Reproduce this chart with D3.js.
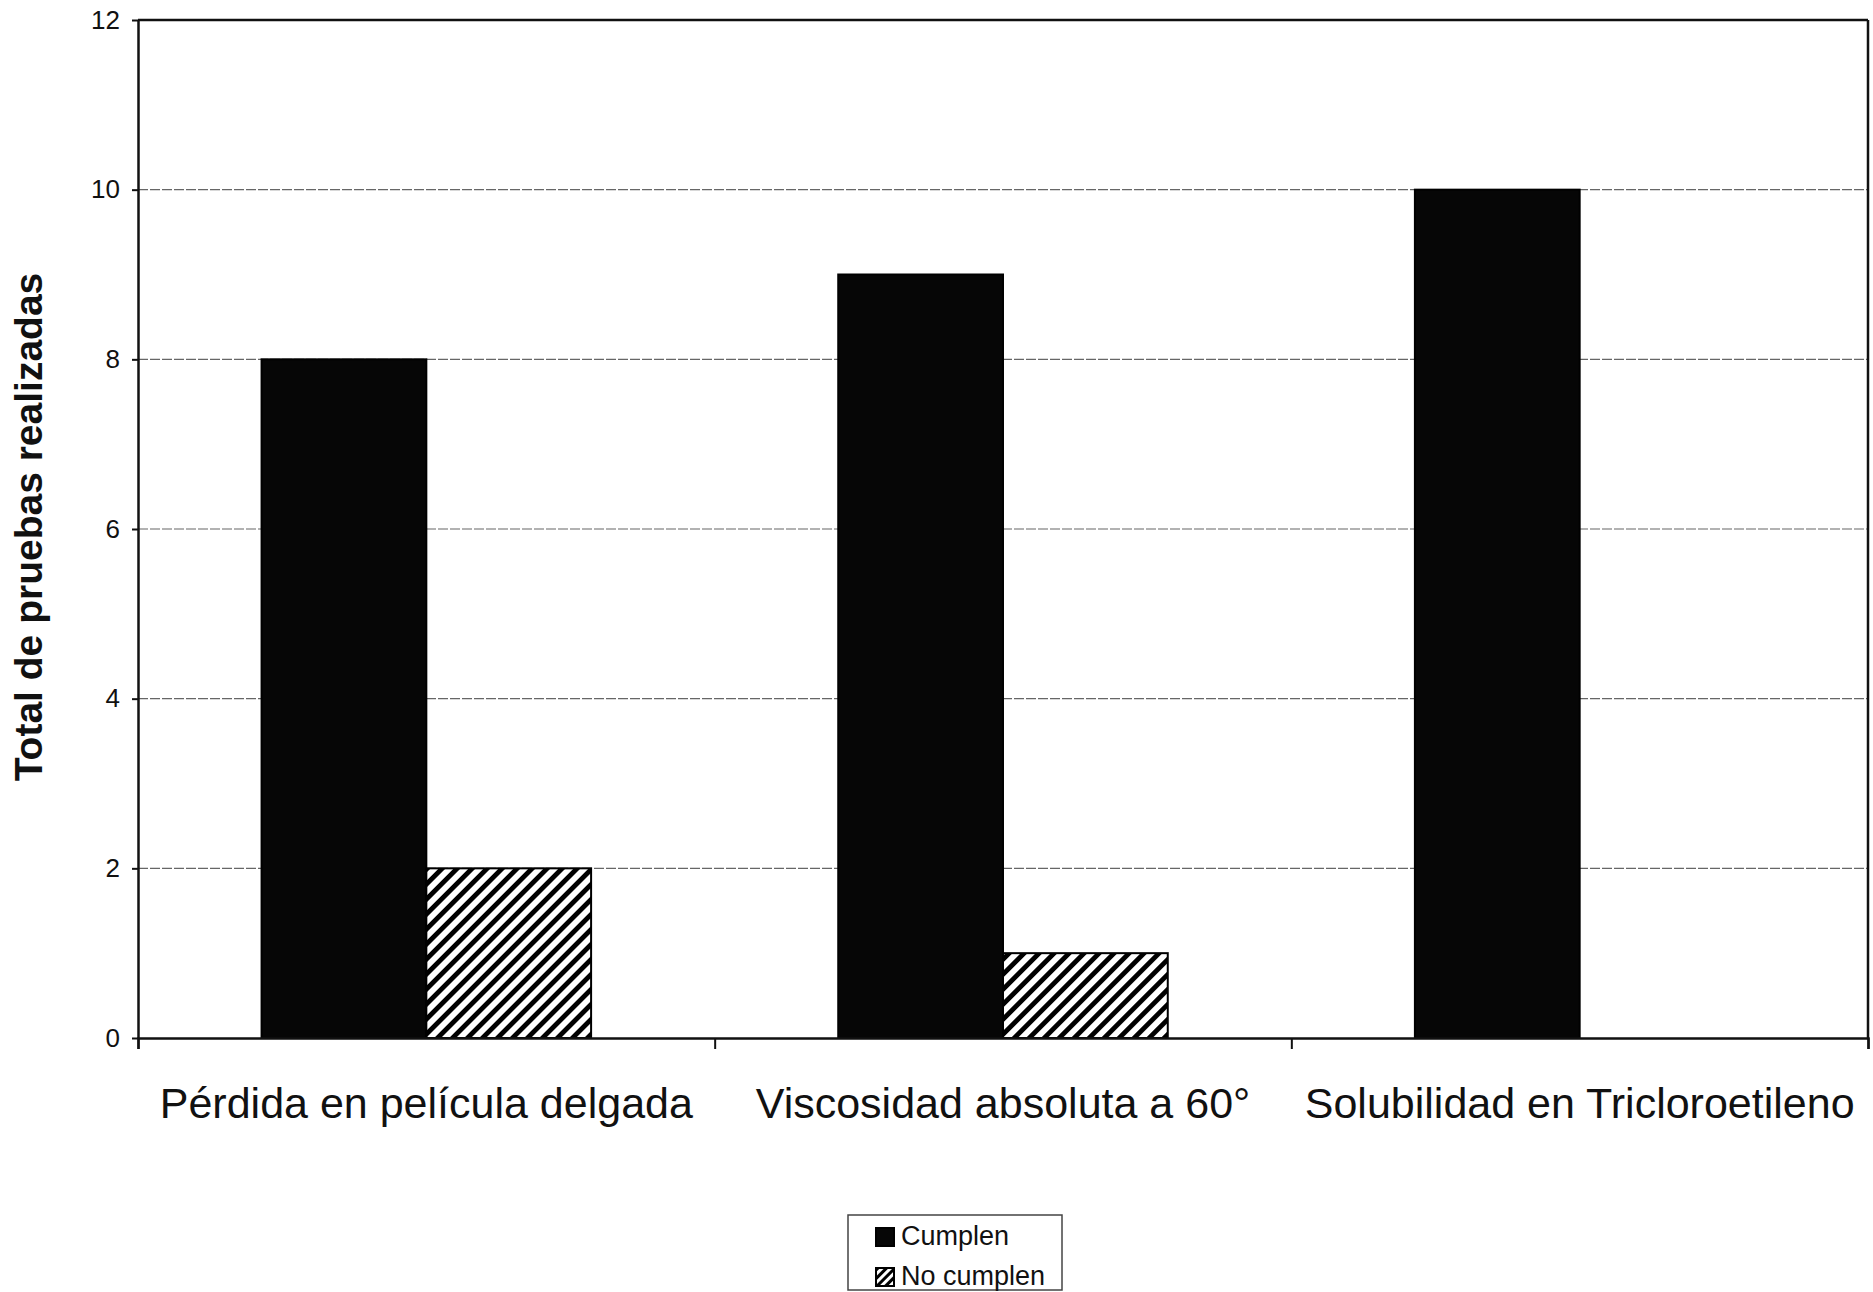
<!DOCTYPE html>
<html>
<head>
<meta charset="utf-8">
<script src="https://cdn.jsdelivr.net/npm/d3@7"></script>
<style>
  html, body { margin: 0; padding: 0; background: #fff; }
  svg { display: block; font-family: "Liberation Sans", Arial, sans-serif; }
</style>
</head>
<body>
<svg id="chart" width="1873" height="1292"></svg>
<script>
// ---- data ----
const categories = ["Pérdida en película delgada", "Viscosidad absoluta a 60°", "Solubilidad en Tricloroetileno"];
const seriesNames = ["Cumplen", "No cumplen"];
const cumplen = [8, 9, 10];
const noCumplen = [2, 1, 0];
const yTicks = [0, 2, 4, 6, 8, 10, 12];
const yTitle = "Total de pruebas realizadas";

// ---- layout ----
const W = 1873, H = 1292;
const plot = { left: 138, right: 1868, top: 20, bottom: 1038 };
const svg = d3.select("#chart");

const defs = svg.append("defs");
defs.append("pattern")
  .attr("id", "hatch").attr("patternUnits", "userSpaceOnUse")
  .attr("width", 10.6).attr("height", 10.6)
  .attr("patternTransform", "rotate(45)")
  .call(p => {
    p.append("rect").attr("width", 10.6).attr("height", 10.6).attr("fill", "#fff");
    p.append("rect").attr("width", 4.8).attr("height", 10.6).attr("fill", "#000");
  });
defs.append("pattern")
  .attr("id", "hatchSmall").attr("patternUnits", "userSpaceOnUse")
  .attr("width", 6).attr("height", 6)
  .attr("patternTransform", "rotate(45)")
  .call(p => {
    p.append("rect").attr("width", 6).attr("height", 6).attr("fill", "#fff");
    p.append("rect").attr("width", 3).attr("height", 6).attr("fill", "#000");
  });

const y = d3.scaleLinear().domain([0, 12]).range([plot.bottom, plot.top]);
const x0 = d3.scaleBand().domain(categories).range([plot.left, plot.right]).padding(0);
const x1 = d3.scaleBand().domain(seriesNames).range([0, x0.bandwidth()])
  .paddingInner(0).paddingOuter(0.75);
const xIdx = d3.scaleLinear().domain([0, categories.length]).range([plot.left, plot.right]);

// gridlines
svg.append("g")
  .selectAll("line")
  .data(yTicks.filter(t => t > 0 && t < 12))
  .join("line")
  .attr("x1", plot.left).attr("x2", plot.right)
  .attr("y1", d => y(d)).attr("y2", d => y(d))
  .attr("stroke", "#666").attr("stroke-width", 1.2)
  .attr("stroke-dasharray", "10,2");

// bars
const data = categories.map((c, i) => ({ cat: c, values: [
  { s: "Cumplen", v: cumplen[i] },
  { s: "No cumplen", v: noCumplen[i] }
]}));

const groups = svg.append("g").selectAll("g")
  .data(data).join("g")
  .attr("transform", d => `translate(${x0(d.cat)},0)`);

groups.selectAll("rect")
  .data(d => d.values.filter(v => v.v > 0))
  .join("rect")
  .attr("x", d => x1(d.s))
  .attr("width", x1.bandwidth())
  .attr("y", d => y(d.v))
  .attr("height", d => y(0) - y(d.v))
  .attr("fill", d => d.s === "Cumplen" ? "#060606" : "url(#hatch)")
  .attr("stroke", "#000")
  .attr("stroke-width", 2);

// plot frame (top and right)
svg.append("line").attr("x1", plot.left).attr("x2", plot.right)
  .attr("y1", y(12)).attr("y2", y(12)).attr("stroke", "#111").attr("stroke-width", 2.5);
svg.append("line").attr("x1", plot.right).attr("x2", plot.right)
  .attr("y1", y(12)).attr("y2", y(0)).attr("stroke", "#111").attr("stroke-width", 2.5);

// y axis
const yAxis = svg.append("g")
  .attr("transform", `translate(${plot.left},0)`)
  .call(d3.axisLeft(y).tickValues(yTicks).tickSize(6).tickPadding(12).tickSizeOuter(0));
yAxis.select(".domain").attr("stroke", "#111").attr("stroke-width", 2.5);
yAxis.selectAll(".tick line").attr("stroke", "#111").attr("stroke-width", 2);
yAxis.selectAll("text").attr("font-size", 26).attr("fill", "#111")
  .attr("font-family", "'Liberation Sans', Arial, sans-serif");

// x axis: boundary ticks
const xTickAxis = svg.append("g")
  .attr("transform", `translate(0,${plot.bottom})`)
  .call(d3.axisBottom(xIdx).tickValues(d3.range(categories.length + 1)).tickSize(11).tickFormat(""));
xTickAxis.select(".domain").attr("stroke", "#111").attr("stroke-width", 2.5);
xTickAxis.selectAll(".tick line").attr("stroke", "#111").attr("stroke-width", 2);

// x axis: category labels
const xLab = svg.append("g")
  .attr("transform", `translate(0,${plot.bottom})`)
  .call(d3.axisBottom(x0).tickSize(0).tickPadding(49));
xLab.select(".domain").remove();
xLab.selectAll("text").attr("font-size", 43).attr("fill", "#111")
  .attr("font-family", "'Liberation Sans', Arial, sans-serif");

// y title
svg.append("text")
  .attr("transform", `translate(42,527) rotate(-90)`)
  .attr("text-anchor", "middle")
  .attr("font-size", 39).attr("font-weight", "bold").attr("fill", "#111")
  .text(yTitle);

// legend
const leg = svg.append("g");
leg.append("rect").attr("x", 848).attr("y", 1215).attr("width", 214).attr("height", 75)
  .attr("fill", "#fff").attr("stroke", "#444").attr("stroke-width", 1.5);
const legItems = leg.selectAll("g.item").data(seriesNames).join("g")
  .attr("class", "item")
  .attr("transform", (d, i) => `translate(876,${1228 + i * 40})`);
legItems.append("rect").attr("width", 18).attr("height", 18)
  .attr("fill", d => d === "Cumplen" ? "#060606" : "url(#hatchSmall)")
  .attr("stroke", "#000").attr("stroke-width", 2);
legItems.append("text").attr("x", 25).attr("y", 17)
  .attr("font-size", 27).attr("fill", "#111").text(d => d);
</script>
</body>
</html>
